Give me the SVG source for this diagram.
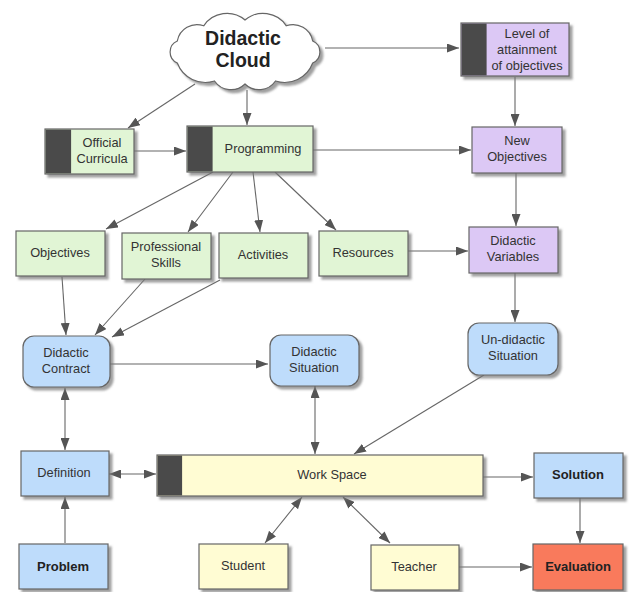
<svg xmlns="http://www.w3.org/2000/svg" width="633" height="592" viewBox="0 0 633 592">
<defs>
<filter id="sh" x="-10%" y="-10%" width="130%" height="140%">
<feDropShadow dx="3" dy="3" stdDeviation="1.2" flood-color="#777" flood-opacity="0.7"/>
</filter>
<marker id="ah" viewBox="0 0 12 9" markerWidth="12" markerHeight="9" refX="12" refY="4.5" orient="auto-start-reverse" markerUnits="userSpaceOnUse">
<path d="M0,0 L12,4.5 L0,9 z" fill="#555"/>
</marker>
</defs>
<style>
.box{stroke:#666;stroke-width:1.2;filter:url(#sh)}
.g{fill:#e1f5d5}
.p{fill:#dcc8f5}
.b{fill:#bedcfb}
.y{fill:#fffcd3}
.r{fill:#f97a5c}
.bar{fill:#4a4a4a}
text{font-family:"Liberation Sans",Arial,sans-serif;font-size:12.8px;fill:#333;text-anchor:middle}
.bold{font-weight:bold;font-size:13px;fill:#222}
.cl{font-weight:bold;font-size:19.5px;fill:#222}
.c line,.c path{stroke:#666;stroke-width:1.1;fill:none;marker-end:url(#ah)}
.c .d{marker-start:url(#ah)}
</style>

<g class="c" id="connectors">
<line x1="325" y1="48" x2="459" y2="48"/>
<line x1="247" y1="90" x2="247" y2="125"/>
<line x1="195" y1="84" x2="128" y2="128"/>
<line x1="134" y1="151" x2="186" y2="151"/>
<line x1="313" y1="150" x2="471" y2="150"/>
<line x1="515" y1="77" x2="515" y2="126"/>
<line x1="516" y1="173" x2="516" y2="226"/>
<line x1="213" y1="172" x2="106" y2="229"/>
<line x1="233" y1="172" x2="188" y2="232"/>
<line x1="253" y1="172" x2="260" y2="232"/>
<line x1="275" y1="172" x2="336" y2="230"/>
<line x1="408" y1="251" x2="468" y2="251"/>
<line x1="515" y1="273" x2="515" y2="322"/>
<line x1="62" y1="277" x2="66" y2="335"/>
<line x1="145" y1="279" x2="95" y2="335"/>
<line x1="220" y1="280" x2="112" y2="337"/>
<line x1="110" y1="364" x2="268" y2="364"/>
<line class="d" x1="65" y1="388" x2="65" y2="450"/>
<line class="d" x1="315" y1="386" x2="315" y2="454"/>
<line x1="484" y1="375" x2="354" y2="454"/>
<line class="d" x1="109" y1="474" x2="156" y2="474"/>
<line x1="483" y1="477" x2="533" y2="477"/>
<line class="d" x1="265" y1="543" x2="302" y2="497"/>
<line class="d" x1="343" y1="497" x2="390" y2="543"/>
<line x1="65" y1="543" x2="65" y2="497"/>
<line x1="580" y1="498" x2="580" y2="543"/>
<line x1="459" y1="567" x2="532" y2="567"/>
</g>

<g id="cloud">
<path class="box" fill="#fff" d="M214.5,81 A30,30 0 0 1 177.3,63 A12,12 0 0 1 177.3,41 A20,20 0 0 1 203.7,25.8 A28,28 0 0 1 245,20 A28,28 0 0 1 286.3,25.8 A20,20 0 0 1 312.7,41 A12,12 0 0 1 312.7,63 A30,30 0 0 1 275.5,81 A20,20 0 0 1 245,84 A20,20 0 0 1 214.5,81 Z"/>
<text class="cl" x="243" y="45">Didactic</text>
<text class="cl" x="243" y="67">Cloud</text>
</g>

<g id="level">
<rect class="box p" x="461" y="23" width="108" height="53"/>
<rect class="bar" x="461.6" y="23.6" width="25" height="51.8"/>
<text x="527" y="38">Level of</text>
<text x="527" y="54">attainment</text>
<text x="527" y="70">of objectives</text>
</g>

<g id="curricula">
<rect class="box g" x="45" y="129" width="89" height="45"/>
<rect class="bar" x="45.6" y="129.6" width="25.5" height="43.8"/>
<text x="102" y="147">Official</text>
<text x="102" y="163">Curricula</text>
</g>

<g id="programming">
<rect class="box g" x="187" y="126" width="126" height="46"/>
<rect class="bar" x="187.6" y="126.6" width="25" height="44.8"/>
<text x="263" y="153">Programming</text>
</g>

<g id="newobj">
<rect class="box p" x="472" y="127" width="90" height="46"/>
<text x="517" y="145">New</text>
<text x="517" y="161">Objectives</text>
</g>

<g id="objectives">
<rect class="box g" x="16" y="231" width="89" height="45"/>
<text x="60" y="257">Objectives</text>
</g>

<g id="skills">
<rect class="box g" x="122" y="233" width="89" height="46"/>
<text x="166" y="251">Professional</text>
<text x="166" y="267">Skills</text>
</g>

<g id="activities">
<rect class="box g" x="219" y="233" width="89" height="45"/>
<text x="263" y="259">Activities</text>
</g>

<g id="resources">
<rect class="box g" x="319" y="231" width="89" height="45"/>
<text x="363" y="257">Resources</text>
</g>

<g id="variables">
<rect class="box p" x="469" y="227" width="89" height="46"/>
<text x="513" y="245">Didactic</text>
<text x="513" y="261">Variables</text>
</g>

<g id="undidactic">
<rect class="box b" x="468" y="323" width="90" height="52" rx="11"/>
<text x="513" y="344">Un-didactic</text>
<text x="513" y="360">Situation</text>
</g>

<g id="contract">
<rect class="box b" x="23" y="336" width="87" height="51" rx="11"/>
<text x="66" y="357">Didactic</text>
<text x="66" y="373">Contract</text>
</g>

<g id="situation">
<rect class="box b" x="270" y="335" width="89" height="51" rx="11"/>
<text x="314" y="356">Didactic</text>
<text x="314" y="372">Situation</text>
</g>

<g id="definition">
<rect class="box b" x="21" y="451" width="88" height="45"/>
<text x="64" y="477">Definition</text>
</g>

<g id="workspace">
<rect class="box y" x="157" y="455" width="326" height="41"/>
<rect class="bar" x="157.6" y="455.6" width="24.5" height="39.8"/>
<text x="332" y="479">Work Space</text>
</g>

<g id="solution">
<rect class="box b" x="534" y="453" width="89" height="45"/>
<text class="bold" x="578" y="479">Solution</text>
</g>

<g id="problem">
<rect class="box b" x="19" y="544" width="89" height="45"/>
<text class="bold" x="63" y="571">Problem</text>
</g>

<g id="student">
<rect class="box y" x="199" y="544" width="89" height="45"/>
<text x="243" y="570">Student</text>
</g>

<g id="teacher">
<rect class="box y" x="371" y="545" width="88" height="45"/>
<text x="414" y="571">Teacher</text>
</g>

<g id="evaluation">
<rect class="box r" x="533" y="544" width="90" height="46"/>
<text class="bold" x="578" y="571">Evaluation</text>
</g>
</svg>
